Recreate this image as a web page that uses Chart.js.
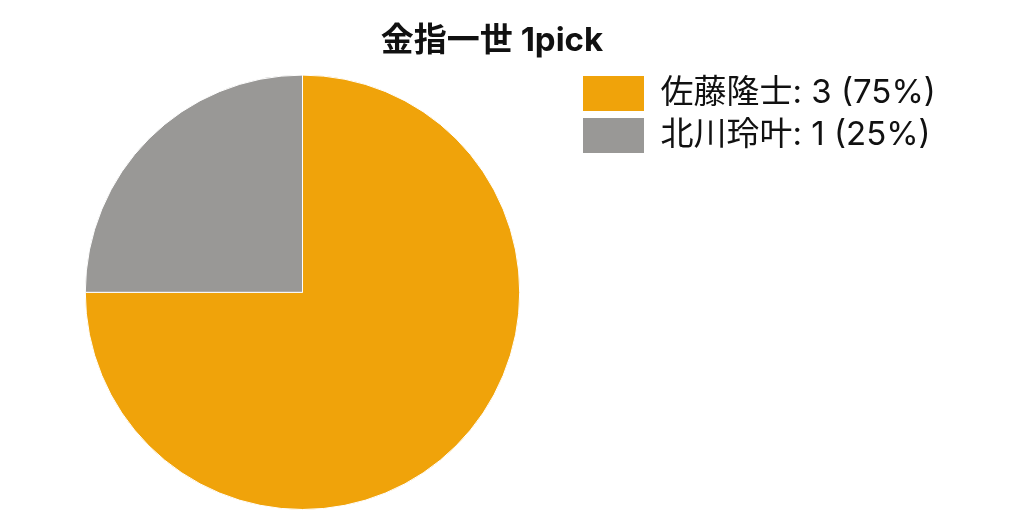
<!DOCTYPE html>
<html>
<head>
<meta charset="utf-8">
<script src="https://cdn.jsdelivr.net/npm/chart.js@4"></script>
<style>
  html, body { margin: 0; padding: 0; background: #fff; }
  #wrap { width: 1024px; height: 512px; }
</style>
</head>
<body>
<div id="wrap"><canvas id="chart"></canvas></div>
<script>
const chartTitle = "金指一世 1pick";
const names = ["佐藤隆士", "北川玲叶"];
const counts = [3, 1];
const colors = ["#F0A30A", "#999896"];

const total = counts.reduce((a, b) => a + b, 0);
const fontFamily = "Inter, 'Noto Sans CJK JP', sans-serif";

// keep the legend a fixed width so the pie sits where it does in the original
const fixedLegend = {
    id: "fixedLegend",
    beforeInit(chart) {
        const fit = chart.legend.fit;
        chart.legend.fit = function () {
            fit.call(this);
            this.width = 379;
        };
    },
};

const ctx = document.getElementById("chart").getContext("2d");
new Chart(ctx, {
    type: "pie",
    data: {
        labels: names,
        datasets: [
            {
                data: counts,
                backgroundColor: colors,
                borderColor: "#ffffff",
                borderWidth: 1,
            },
        ],
    },
    options: {
        responsive: true,
        maintainAspectRatio: false,
        animation: false,
        layout: {
            padding: { left: 29, right: 69, top: 21, bottom: 2 },
        },
        plugins: {
            title: {
                display: true,
                text: chartTitle,
                color: "#111",
                font: { family: fontFamily, size: 33, weight: "bold" },
                padding: { top: 0, bottom: 14 },
            },
            legend: {
                position: "right",
                align: "start",
                title: {
                    display: true,
                    text: " ",
                    font: { size: 10 },
                    padding: { top: 36, bottom: 0 },
                },
                labels: {
                    boxWidth: 61,
                    boxHeight: 35,
                    padding: 7,
                    color: "#111",
                    font: { family: fontFamily, size: 33 },
                    generateLabels: (chart) =>
                        names.map((name, i) => ({
                            text: name + ": " + counts[i] + " (" + Math.round((counts[i] / total) * 100) + "%)",
                            fillStyle: colors[i],
                            strokeStyle: colors[i],
                            fontColor: "#111",
                            lineWidth: 0,
                            index: i,
                        })),
                },
            },
            tooltip: { enabled: false },
        },
    },
    plugins: [fixedLegend],
});
</script>
</body>
</html>
